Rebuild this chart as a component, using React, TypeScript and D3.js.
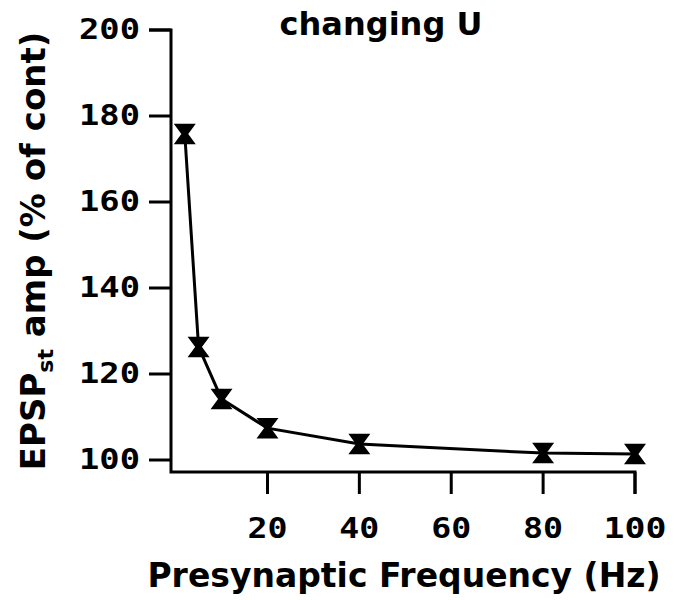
import React from "react";
import * as d3 from "d3";

const freqs = [2, 5, 10, 20, 40, 80, 100];
const amps = [175.8, 126.3, 114.2, 107.4, 103.7, 101.6, 101.4];
const xTicks = [20, 40, 60, 80, 100];
const yTicks = [100, 120, 140, 160, 180, 200];
const titleText = "changing U";
const xLabel = "Presynaptic Frequency (Hz)";

const W = 675;
const H = 600;

export default function App() {
  const x = d3.scaleLinear().domain([-1, 100]).range([171, 635]);
  const y = d3.scaleLinear().domain([100, 200]).range([460, 30]);
  const axisY = 472;
  const line = d3
    .line<number>()
    .x((_, i) => x(freqs[i]))
    .y((d) => y(d));
  const markerPath = "M-9.5,-9.5H9.5L2.5,0L9.5,9.5H-9.5L-2.5,0Z";
  const numFont = "'DejaVu Sans Mono', monospace";
  const txtFont = "'DejaVu Sans', sans-serif";
  return (
    <svg
      width={W}
      height={H}
      style={{ position: "absolute", left: 0, top: 0, background: "#fff" }}
    >
      <path
        d={`M${x(-1) - 22},${y(200)}H${x(-1)}V${axisY}H${x(100)}V${axisY + 22}`}
        fill="none"
        stroke="#000"
        strokeWidth={3}
      />
      {yTicks.map((t) => (
        <g key={"y" + t}>
          <line x1={x(-1) - 22} x2={x(-1)} y1={y(t)} y2={y(t)} stroke="#000" strokeWidth={3} />
          <text
            x={140}
            y={y(t) + 9}
            textAnchor="end"
            fontFamily={numFont}
            fontWeight="bold"
            fontSize={28}
            textLength={String(t).length * 22 - 5}
            lengthAdjust="spacingAndGlyphs"
          >
            {t}
          </text>
        </g>
      ))}
      {xTicks.map((t) => (
        <g key={"x" + t}>
          <line x1={x(t)} x2={x(t)} y1={axisY} y2={axisY + 22} stroke="#000" strokeWidth={3} />
          <text
            x={x(t)}
            y={538}
            textAnchor="middle"
            fontFamily={numFont}
            fontWeight="bold"
            fontSize={29}
            textLength={String(t).length * 23 - 6}
            lengthAdjust="spacingAndGlyphs"
          >
            {t}
          </text>
        </g>
      ))}
      <path d={line(amps) || ""} fill="none" stroke="#000" strokeWidth={3} />
      {amps.map((a, i) => (
        <path
          key={"m" + i}
          d={markerPath}
          transform={`translate(${x(freqs[i])},${y(a)})`}
          fill="#000"
          stroke="#000"
          strokeWidth={1.5}
        />
      ))}
      <text
        x={381}
        y={35}
        textAnchor="middle"
        fontFamily={txtFont}
        fontWeight="bold"
        fontSize={32}
      >
        {titleText}
      </text>
      <text
        x={404}
        y={587}
        textAnchor="middle"
        fontFamily={txtFont}
        fontWeight="bold"
        fontSize={33}
      >
        {xLabel}
      </text>
      <text
        transform="translate(45,251) rotate(-90)"
        textAnchor="middle"
        fontFamily={txtFont}
        fontWeight="bold"
        fontSize={34}
      >
        EPSP
        <tspan fontSize={22} dy={8}>st</tspan>
        <tspan dy={-8}> amp (% of cont)</tspan>
      </text>
    </svg>
  );
}
